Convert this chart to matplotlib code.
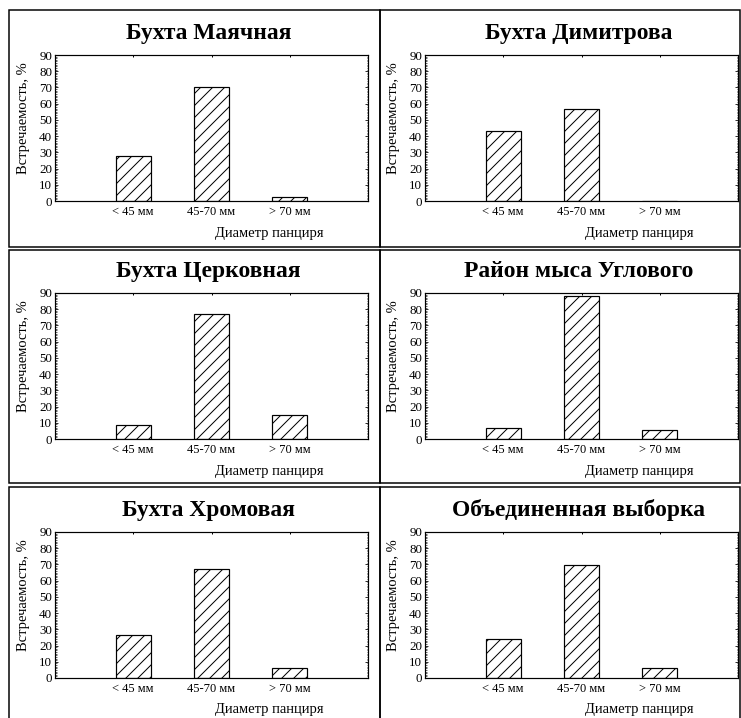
import numpy as np
import matplotlib.pyplot as plt
from matplotlib.patches import Rectangle

plt.rcParams['font.family'] = ['Liberation Serif', 'DejaVu Serif']
plt.rcParams['hatch.linewidth'] = 1.0

# data
categories = ['< 45 мм', '45-70 мм', '> 70 мм']
titles = ['Бухта Маячная', 'Бухта Димитрова',
          'Бухта Церковная', 'Район мыса Углового',
          'Бухта Хромовая', 'Объединенная выборка']
majachnaya = [27.7, 70.0, 2.3]
dimitrova = [43.3, 56.5, 0.3]
tserkovnaya = [8.5, 76.8, 14.5]
uglovoy = [6.8, 87.9, 5.7]
khromovaya = [26.2, 67.0, 6.3]
combined = [23.8, 69.7, 6.4]
series = [majachnaya, dimitrova, tserkovnaya, uglovoy, khromovaya, combined]
ylabel = 'Встречаемость, %'
xlabel = 'Диаметр панциря'

W, H = 741, 718
fig = plt.figure(figsize=(W / 72, H / 72), dpi=72)

# panel frames (pixel coords)
col_x = [(9, 380), (380, 740)]
row_y = [(10, 247), (250, 483), (487, 722)]
for (y0, y1) in row_y:
    for (x0, x1) in col_x:
        fig.patches.append(Rectangle((x0 / W, 1 - y1 / H), (x1 - x0) / W, (y1 - y0) / H,
                                     transform=fig.transFigure, fill=False,
                                     edgecolor='black', linewidth=1.5))

ax_left = [55, 425]
ax_top = [55, 293, 532]
aw, ah = 313, 146

x = np.arange(len(categories))
for i, (vals, title) in enumerate(zip(series, titles)):
    r, c = divmod(i, 2)
    l, t = ax_left[c], ax_top[r]
    ax = fig.add_axes([l / W, 1 - (t + ah) / H, aw / W, ah / H])
    ax.bar(x, vals, width=0.45, color='white', edgecolor='black',
           linewidth=1.2, hatch='//')
    ax.set_xlim(-1, 3)
    ax.set_ylim(0, 90)
    ax.set_yticks(range(0, 91, 10))
    ax.set_yticks(range(0, 91, 1), minor=True)
    ax.set_xticks(x)
    ax.set_xticklabels(categories, fontsize=12.5)
    ax.tick_params(axis='y', direction='in', left=True, right=True,
                   length=3, width=0.8, labelsize=13, pad=3)
    ax.tick_params(axis='y', which='minor', direction='in', left=True,
                   right=True, length=1.5, width=0.6)
    ax.tick_params(axis='x', direction='in', top=True, bottom=False,
                   length=2, width=1, pad=5)
    for s in ax.spines.values():
        s.set_linewidth(1.2)
    ax.text(0.49, 1 + 16 / ah, title, transform=ax.transAxes, ha='center',
            va='baseline', fontsize=23.5, fontweight='bold')
    ax.text(0.684, -32 / ah, xlabel, transform=ax.transAxes, ha='center',
            va='center', fontsize=14.5)
    ax.text(-32 / aw, 0.565, ylabel, transform=ax.transAxes, ha='center',
            va='center', rotation=90, fontsize=14.5)

fig.savefig('out.png', dpi=72)
